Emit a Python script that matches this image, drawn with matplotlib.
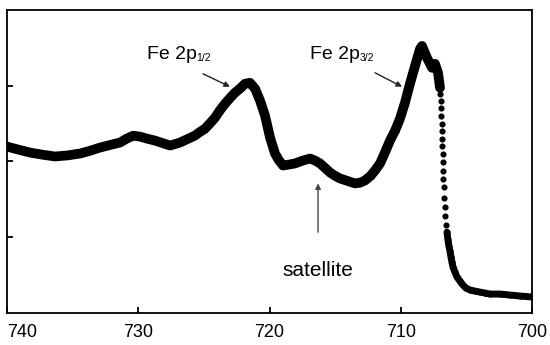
import matplotlib
matplotlib.use("Agg")
import matplotlib.pyplot as plt

plt.rcParams['font.family'] = ['Liberation Sans', 'DejaVu Sans']

# Binding energy (eV) and intensity (arb. units)
energy_main = [740.00, 739.2, 738.25, 737.3, 736.34, 735.4, 734.44, 733.7, 732.91, 732.1,
               731.39, 730.9, 730.4, 729.87, 729.3, 728.72, 728.1, 727.58, 727.2, 726.82,
               726.2, 725.68, 725.3, 724.91, 724.5, 724.15, 723.8, 723.39, 723.0, 722.63,
               722.2, 721.87, 721.49, 721.10, 720.72, 720.34, 719.96, 719.58, 719.3,
               718.97, 718.5, 718.06, 717.5, 716.91, 716.5, 716.15, 715.8, 715.39, 715.0,
               714.63, 714.0, 713.49, 713.1, 712.72, 712.3, 711.96, 711.58, 711.2, 710.82,
               710.4, 710.06, 709.68, 709.30, 708.91, 708.53, 708.38, 708.2, 708.00, 707.8,
               707.62, 707.39, 707.16, 707.01]
counts_main = [2.197, 2.16, 2.118, 2.09, 2.066, 2.08, 2.105, 2.14, 2.184, 2.22,
               2.250, 2.30, 2.34, 2.329, 2.30, 2.276, 2.24, 2.211, 2.23, 2.250,
               2.30, 2.342, 2.39, 2.434, 2.51, 2.579, 2.67, 2.763, 2.84, 2.908,
               2.97, 3.026, 3.039, 2.961, 2.803, 2.605, 2.316, 2.105, 2.02,
               1.947, 1.96, 1.974, 2.01, 2.039, 2.01, 1.974, 1.92, 1.855, 1.81,
               1.776, 1.74, 1.711, 1.72, 1.750, 1.81, 1.882, 1.974, 2.12, 2.276,
               2.42, 2.566, 2.776, 3.026, 3.263, 3.487, 3.526, 3.45, 3.368, 3.30,
               3.237, 3.289, 3.171, 2.974]

energy_edge = [706.98, 706.95, 706.93, 706.91, 706.89, 706.87, 706.85, 706.83,
               706.81, 706.79, 706.77, 706.75, 706.72, 706.68, 706.64, 706.60, 706.55]
counts_edge = [2.895, 2.80, 2.70, 2.60, 2.50, 2.40, 2.30, 2.20,
               2.10, 1.99, 1.88, 1.77, 1.66, 1.52, 1.40, 1.28, 1.16]

energy_tail = [706.48, 706.40, 706.33, 706.25, 706.17, 706.10, 706.02, 705.87, 705.71,
               705.49, 705.26, 705.03, 704.72, 704.34, 703.96, 703.58, 703.20, 702.44,
               701.68, 700.91, 700.00]
counts_tail = [1.066, 0.961, 0.882, 0.816, 0.737, 0.671, 0.605, 0.539, 0.474,
               0.421, 0.368, 0.329, 0.303, 0.289, 0.276, 0.263, 0.250, 0.250,
               0.237, 0.224, 0.211]

x_ticks = [740, 730, 720, 710, 700]

fig = plt.figure(figsize=(5.5, 3.45), dpi=100)
ax = fig.add_axes([0.0127, 0.0928, 0.9546, 0.8782])

ax.plot(energy_main, counts_main, color='black', lw=7, solid_capstyle='round',
        solid_joinstyle='round', marker='o', ms=4, zorder=3)
ax.plot(energy_edge, counts_edge, ls='none', color='black', marker='o', ms=3.4, zorder=3)
ax.plot(energy_tail, counts_tail, color='black', lw=5, solid_capstyle='round',
        solid_joinstyle='round', marker='o', ms=3.5, zorder=3)

ax.set_xlim(740, 700)
ax.set_ylim(0, 4)
ax.set_xticks(x_ticks)
ax.set_xticklabels([str(t) for t in x_ticks], fontsize=13)
ax.get_xticklabels()[0].set_ha('left')
ax.set_yticks([1, 2, 3])
ax.set_yticklabels([])
ax.tick_params(direction='in', length=4, width=1.3, pad=8)
for s in ax.spines.values():
    s.set_linewidth(1.3)
    s.set_color('black')

for xe, sub in [(729.33, '1/2'), (716.91, '3/2')]:
    t = ax.text(xe, 3.355, 'Fe 2p', fontsize=14, ha='left', va='baseline')
    ax.annotate(sub, xy=(1.0, 0.0), xycoords=t, xytext=(-0.5, 0),
                textcoords='offset points', fontsize=7.5, ha='left', va='bottom')

ax.annotate('', xy=(723.01, 2.987), xytext=(725.07, 3.158),
            arrowprops=dict(arrowstyle='-|>', color='#222222', lw=1.0,
                            mutation_scale=8, shrinkA=0, shrinkB=0))
ax.annotate('', xy=(709.90, 2.987), xytext=(711.96, 3.171),
            arrowprops=dict(arrowstyle='-|>', color='#222222', lw=1.0,
                            mutation_scale=8, shrinkA=0, shrinkB=0))
ax.annotate('', xy=(716.30, 1.711), xytext=(716.30, 1.066),
            arrowprops=dict(arrowstyle='-|>', color='#444444', lw=1.0,
                            mutation_scale=8, shrinkA=0, shrinkB=0))
ax.text(716.30, 0.487, 'satellite', fontsize=15, ha='center', va='baseline')

fig.savefig('out.png', dpi=100)
